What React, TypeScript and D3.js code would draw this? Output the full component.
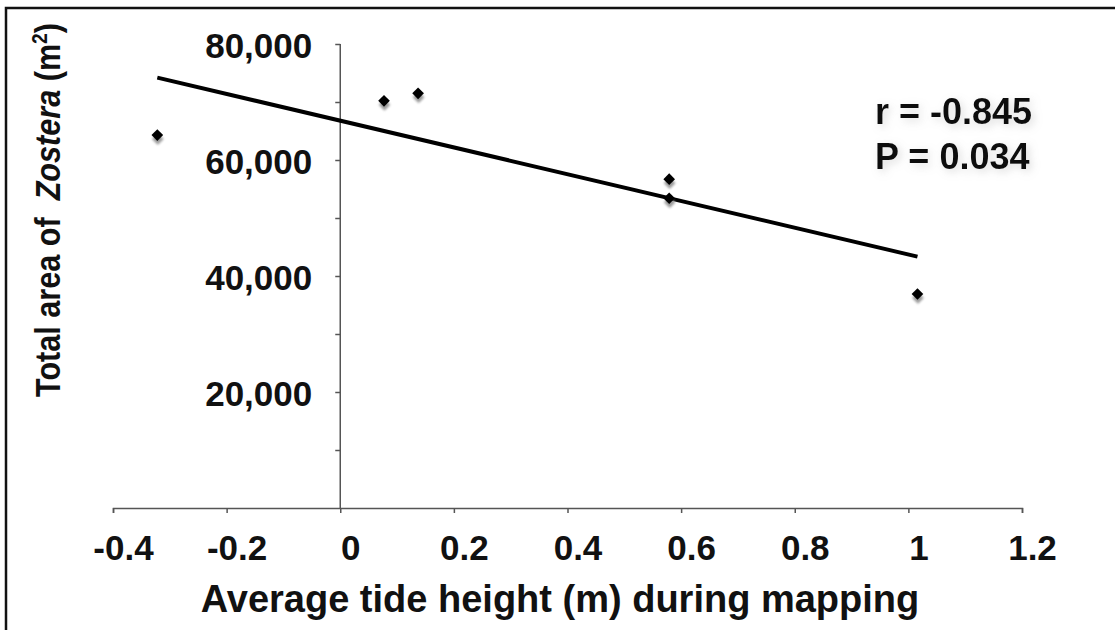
import React, { useEffect, useRef } from 'react';
import * as d3 from 'd3';

const width = 1115,
      height = 630;

// tide height (m) and Zostera area (m2)
const tideHeight = [-0.322, 0.077, 0.137, 0.579, 0.579, 1.016];
const zosteraArea = [64300, 70200, 71500, 56700, 53400, 36900];

const xTicks = [-0.4, -0.2, 0, 0.2, 0.4, 0.6, 0.8, 1, 1.2];
const yTicks = [10000, 20000, 30000, 40000, 50000, 60000, 70000, 80000];
const statLines = ['r = -0.845', 'P = 0.034'];

const FONT = '"Liberation Sans", Arial, sans-serif';

const App = () => {
    const ref = useRef<SVGSVGElement>(null);

    useEffect(() => {
        const svg = d3.select(ref.current);
        svg.html('');

        const x = d3.scaleLinear().domain([-0.4, 1.2]).range([113, 1022]);
        const y = d3.scaleLinear().domain([0, 80000]).range([508, 44]);

        const defs = svg.append('defs');
        const blur = defs.append('filter').attr('id', 'soft').attr('x', '-30%').attr('y', '-40%').attr('width', '160%').attr('height', '180%');
        blur.append('feGaussianBlur').attr('stdDeviation', 1.3);
        const glow = defs.append('filter').attr('id', 'glow').attr('x', '-10%').attr('y', '-30%').attr('width', '130%').attr('height', '170%');
        glow.append('feDropShadow').attr('dx', 3).attr('dy', 3).attr('stdDeviation', 4).attr('flood-color', '#999').attr('flood-opacity', 0.35);

        // outer frame (runs off right and bottom)
        svg.append('rect')
            .attr('x', 6).attr('y', 8).attr('width', 1200).attr('height', 700)
            .attr('fill', 'none').attr('stroke', '#111').attr('stroke-width', 2.5);

        // x axis at y = 0
        const xAxis = svg.append('g')
            .attr('transform', `translate(0,${y(0)})`)
            .call(d3.axisBottom(x).tickValues(xTicks).tickSize(5).tickSizeOuter(5).tickPadding(22)
                .tickFormat(d => String(d)));
        xAxis.select('.domain').attr('stroke', '#555').attr('stroke-width', 1.5);
        xAxis.selectAll('.tick line').attr('stroke', '#555').attr('stroke-width', 1.5);
        xAxis.selectAll('.tick text')
            .attr('font-family', FONT).attr('font-size', 35).attr('font-weight', 'bold').attr('fill', '#111')
            .attr('dx', 10);

        // y axis at x = 0
        const yAxis = svg.append('g')
            .attr('transform', `translate(${x(0)},0)`)
            .call(d3.axisLeft(y).tickValues(yTicks).tickSize(5).tickSizeOuter(0).tickPadding(23)
                .tickFormat(d => (+d % 20000 === 0 ? d3.format(',')(+d) : '')));
        yAxis.select('.domain').attr('stroke', '#555').attr('stroke-width', 1.5)
            .attr('d', `M0,${y(80000)}V${y(0)}`);
        yAxis.selectAll('.tick line').attr('stroke', '#555').attr('stroke-width', 1.5);
        yAxis.selectAll('.tick text')
            .attr('font-family', FONT).attr('font-size', 35).attr('font-weight', 'bold').attr('fill', '#111')
            .attr('dy', '0.38em');

        // regression line
        const mx = d3.mean(tideHeight) as number;
        const my = d3.mean(zosteraArea) as number;
        const sxy = d3.sum(tideHeight, (v, i) => (v - mx) * (zosteraArea[i] - my));
        const sxx = d3.sum(tideHeight, v => (v - mx) * (v - mx));
        const slope = sxy / sxx;
        const icpt = my - slope * mx;
        const ext = d3.extent(tideHeight) as [number, number];
        svg.append('path')
            .datum(ext.map(v => [v, icpt + slope * v] as [number, number]))
            .attr('d', d3.line().x(d => x(d[0])).y(d => y(d[1])))
            .attr('stroke', '#000').attr('stroke-width', 4).attr('fill', 'none');

        // points, with a grey shadow under each diamond
        const pts = tideHeight.map((v, i) => ({ tx: v, area: zosteraArea[i] }));
        const diamond = d3.symbol(d3.symbolSquare, 68);
        svg.append('g').selectAll('path')
            .data(pts).enter().append('path')
            .attr('d', diamond)
            .attr('transform', d => `translate(${x(d.tx) + 0.5},${y(d.area) + 4}) rotate(45)`)
            .attr('fill', '#8a8a8a').attr('opacity', 0.85).attr('filter', 'url(#soft)');
        svg.append('g').selectAll('path')
            .data(pts).enter().append('path')
            .attr('d', diamond)
            .attr('transform', d => `translate(${x(d.tx)},${y(d.area)}) rotate(45)`)
            .attr('fill', '#000');

        // stats
        svg.append('g').attr('filter', 'url(#glow)')
            .selectAll('text').data(statLines).enter().append('text')
            .attr('x', 875).attr('y', (d, i) => 124 + i * 45)
            .attr('font-family', FONT).attr('font-size', 36).attr('font-weight', 'bold').attr('fill', '#111')
            .text(d => d);

        // axis titles
        svg.append('text')
            .attr('x', 560).attr('y', 612).attr('text-anchor', 'middle')
            .attr('font-family', FONT).attr('font-size', 38).attr('font-weight', 'bold').attr('fill', '#111')
            .text('Average tide height (m) during mapping');

        const yt = svg.append('text')
            .attr('transform', 'translate(60,210) rotate(-90)')
            .attr('text-anchor', 'middle')
            .attr('textLength', 374).attr('lengthAdjust', 'spacingAndGlyphs')
            .attr('font-family', FONT).attr('font-size', 35).attr('font-weight', 'bold').attr('fill', '#111');
        yt.append('tspan').text('Total area of\u00a0\u00a0');
        yt.append('tspan').attr('font-style', 'italic').text('Zostera');
        yt.append('tspan').text(' (m');
        yt.append('tspan').attr('font-size', 22).attr('dy', -13).text('2');
        yt.append('tspan').attr('dy', 13).text(')');
    }, []);

    return (
        <svg
            ref={ref}
            width={width}
            height={height}
            style={{ position: 'absolute', left: 0, top: 0, background: '#fff' }}>
        </svg>
    );
};

export default App;
